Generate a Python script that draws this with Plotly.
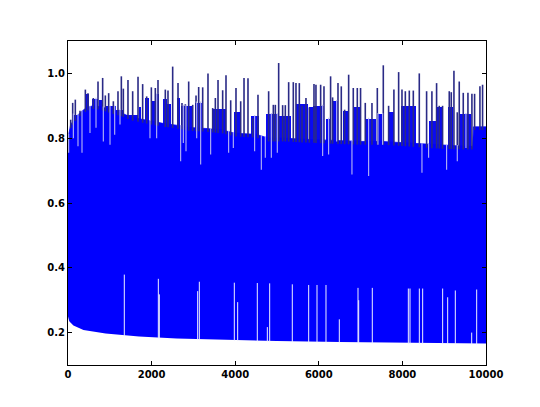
import numpy as np
import plotly.graph_objects as go

# lower envelope of the oscillating series
lower_x = [0, 30, 130, 370, 900, 1700, 2600, 3600, 5000, 6500, 7500, 9000, 10000]
lower_y = [0.25, 0.235, 0.222, 0.208, 0.197, 0.188, 0.182, 0.178, 0.174, 0.171, 0.169, 0.167, 0.166]

# top of the dense (solid) band
top_x = [0, 60, 150, 300, 450, 600, 800, 1000, 1300, 1500, 1700, 2000, 2300, 2600, 2900, 3300,
         3700, 4000, 4500, 4800, 5200, 5600, 6000, 6500, 7000, 7500, 8000, 8500, 9000, 9500,
         9680, 9700, 10000]
top_y = [0.80, 0.84, 0.86, 0.88, 0.895, 0.9, 0.897, 0.888, 0.877, 0.865, 0.86, 0.852, 0.845, 0.84,
         0.833, 0.83, 0.825, 0.815, 0.812, 0.80, 0.80, 0.797, 0.795, 0.792, 0.79, 0.79, 0.786, 0.781,
         0.777, 0.775, 0.775, 0.835, 0.835]

# partly filled stretches above the solid band (start x, end x, top value)
block_x0 = [48, 128, 271, 415, 574, 750, 909, 1148, 1348, 1690, 1850, 1977, 2089, 2264, 2380, 2615,
            2711, 3046, 3461, 3979, 4378, 4736, 4975, 5454, 5773, 5852, 6171, 6330, 6570, 6809,
            7128, 7407, 7686, 7965, 8643, 8818, 9081, 9360]
block_x1 = [112, 231, 399, 510, 710, 829, 1148, 1308, 1675, 1740, 1946, 2073, 2169, 2360, 2456, 2679,
            2982, 3222, 3780, 4138, 4577, 5024, 5334, 5733, 5852, 6131, 6290, 6450, 6698, 7009,
            7367, 7527, 7806, 8324, 8802, 8961, 9201, 9639]
block_top = [0.842, 0.873, 0.862, 0.935, 0.922, 0.918, 0.898, 0.888, 0.873, 0.895, 0.925, 0.915,
             0.935, 0.92, 0.905, 0.925, 0.9, 0.91, 0.89, 0.88, 0.868, 0.875, 0.87, 0.905, 0.895,
             0.9, 0.86, 0.915, 0.885, 0.895, 0.86, 0.875, 0.88, 0.9, 0.852, 0.895, 0.895, 0.875]

# upward spikes (x, peak value)
spike_x = [64, 112, 175, 287, 415, 478, 606, 718, 829, 893, 973, 1085, 1196, 1276, 1324, 1435, 1547,
           1675, 1786, 1882, 1994, 2089, 2153, 2328, 2392, 2504, 2632, 2727, 2807, 2887, 2983, 3063,
           3126, 3222,
           3349, 3461, 3525, 3589, 3700, 3780, 3892, 4019, 4131, 4211, 4306, 4418, 4545, 4800, 4912,
           4960,
           5040, 5135, 5199, 5279, 5390, 5454, 5534, 5598, 5693, 5773, 5885, 5932, 6044, 6124, 6282,
           6330, 6459, 6538, 6618,
           6714, 6825, 6921, 6999, 7112, 7272, 7400, 7543, 7670, 7797, 7910, 7990, 8070, 8165, 8261,
           8404, 8579, 8706, 8818, 8882, 8961, 9121, 9169, 9233, 9313, 9360, 9456, 9568, 9663, 9727,
           9855, 9918]
spike_y = [0.857, 0.909, 0.919, 0.885, 0.95, 0.939, 0.924, 0.975, 0.986, 0.932, 0.939, 0.914, 0.945,
           0.991, 0.953, 0.98, 0.945,
           0.99, 0.967, 0.929, 0.957, 0.955, 0.98, 0.95, 0.947, 1.021, 0.97, 0.909, 0.905, 0.975,
           0.903, 0.932, 0.958, 0.957,
           1.0, 0.893, 0.924, 0.98, 0.948, 0.994, 0.917, 0.955, 0.914, 0.986, 0.985, 0.862, 0.934,
           0.945, 0.903, 0.903,
           1.032, 0.902, 0.902, 0.973, 0.973, 0.97, 0.97, 0.9, 0.924, 0.895, 0.967, 0.965, 0.965,
           0.96, 0.991, 0.926, 0.97, 0.96, 0.888,
           0.996, 0.955, 0.955, 0.955, 0.909, 0.909, 0.955, 1.025, 0.9, 0.95, 1.004, 0.95, 0.945,
           0.947, 0.947,
           1.0, 0.945, 0.945, 0.97, 0.9, 0.9, 0.945, 0.942, 1.008, 0.88, 0.975, 0.94, 0.94, 0.937,
           0.937, 0.96, 0.965]

# narrow gaps reaching down from the top of the band (x, lowest value of the gap)
gap_hi_x = [16, 128, 239, 335, 526, 670, 845, 1005, 1117, 1244, 1961, 2121, 2695, 2759, 2823, 3079,
            3174, 3413, 3843, 3955, 4465, 4625, 4720, 4864, 5007, 6092, 6235, 6427, 6793, 7192,
            7415, 7527, 8468, 8627, 9058, 9313, 9520]
gap_hi_y = [0.755, 0.8, 0.775, 0.755, 0.816, 0.832, 0.79, 0.78, 0.811, 0.842, 0.8, 0.8, 0.729, 0.785,
            0.76, 0.8, 0.719, 0.75, 0.755, 0.77, 0.76, 0.703, 0.74, 0.74, 0.755, 0.745, 0.75, 0.79,
            0.688, 0.683, 0.78, 0.78, 0.693, 0.74, 0.703, 0.729, 0.77]

# narrow gaps reaching up from the bottom of the band (x, highest value of the gap)
gap_lo_x = [1347, 2161, 2185, 3102, 3142, 3979, 4059, 4529, 4769, 4825, 5366, 5758, 5957, 6172, 6491,
            6938, 6954, 7280, 8142, 8182, 8405, 8485, 8963, 9083, 9266, 9658, 9777]
gap_lo_y = [0.379, 0.366, 0.318, 0.328, 0.357, 0.354, 0.294, 0.353, 0.217, 0.352, 0.349, 0.347,
            0.347, 0.347, 0.241, 0.338, 0.3, 0.338, 0.336, 0.336, 0.336, 0.336, 0.336, 0.309, 0.33,
            0.2, 0.333]

x_ticks = [0, 2000, 4000, 6000, 8000, 10000]
y_ticks = [0.2, 0.4, 0.6, 0.8, 1.0]


def segments(xs, y0s, y1s):
    sx, sy = [], []
    for x, a, b in zip(xs, y0s, y1s):
        sx += [x, x, None]
        sy += [a, b, None]
    return sx, sy


def covered_top(x):
    """Highest filled value at x (solid band or a block)."""
    t = float(np.interp(x, top_x, top_y))
    for a, b, h in zip(block_x0, block_x1, block_top):
        if a <= x <= b:
            t = max(t, h)
    return t


fig = go.Figure()

block_base = 0.7
fig.add_trace(go.Bar(x=[(a + b) / 2 for a, b in zip(block_x0, block_x1)],
                     width=[b - a for a, b in zip(block_x0, block_x1)],
                     y=[h - block_base for h in block_top], base=block_base,
                     marker=dict(color="#0a0af4", line=dict(width=0)),
                     hoverinfo="skip", showlegend=False))

fig.add_trace(go.Scatter(x=lower_x, y=lower_y, mode="lines", line=dict(width=0, color="#0000ff"),
                         hoverinfo="skip", showlegend=False))
fig.add_trace(go.Scatter(x=top_x, y=top_y, mode="lines", line=dict(width=0.8, color="#0000ff"),
                         fill="tonexty", fillcolor="#0000ff", hoverinfo="skip", showlegend=False))

base_at_spike = np.interp(spike_x, top_x, top_y) - 0.01
sx, sy = segments(spike_x, base_at_spike, spike_y)
fig.add_trace(go.Scatter(x=sx, y=sy, mode="lines", line=dict(width=1.6, color="#2a2a86"),
                         hoverinfo="skip", showlegend=False))

top_at_gap = [covered_top(x) + 0.003 for x in gap_hi_x]
gx, gy = segments(gap_hi_x, top_at_gap, gap_hi_y)
fig.add_trace(go.Scatter(x=gx, y=gy, mode="lines", line=dict(width=1.1, color="#b8b8f4"),
                         hoverinfo="skip", showlegend=False))

low_at_gap = np.interp(gap_lo_x, lower_x, lower_y) - 0.003
lx, ly = segments(gap_lo_x, low_at_gap, gap_lo_y)
fig.add_trace(go.Scatter(x=lx, y=ly, mode="lines", line=dict(width=1.0, color="#eef0ff"),
                         hoverinfo="skip", showlegend=False))

axis_common = dict(showgrid=False, zeroline=False, showline=True, linecolor="black", linewidth=1,
                   mirror="ticks", ticks="inside", ticklen=4, tickcolor="black",
                   tickfont=dict(family="DejaVu Sans", size=10, color="black", weight="bold"))
fig.update_xaxes(range=[0, 10000], tickvals=x_ticks, ticktext=[str(v) for v in x_ticks],
                 **axis_common)
fig.update_yaxes(range=[0.1, 1.1], tickvals=y_ticks, ticktext=[f"{v:.1f}" for v in y_ticks],
                 **axis_common)
# the html page body adds an 8 px offset, margins compensate for it
fig.update_layout(width=540, height=407, margin=dict(l=60, r=62, t=33, b=50),
                  paper_bgcolor="white", plot_bgcolor="white", showlegend=False,
                  barmode="overlay", bargap=0)

fig.write_html("out.html")
